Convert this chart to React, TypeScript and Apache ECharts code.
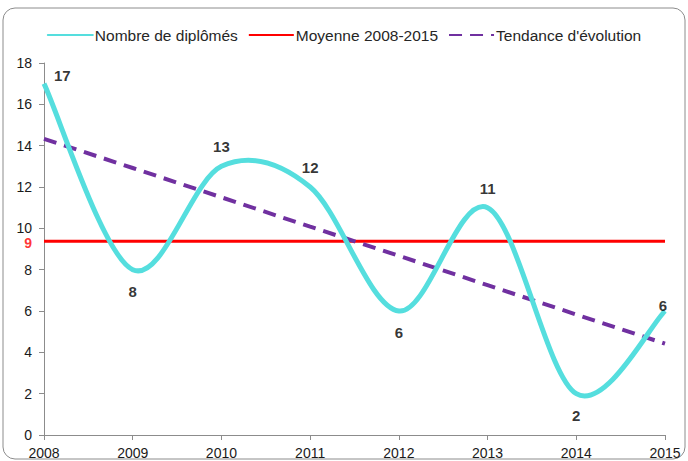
import React, { useEffect, useRef } from "react";
import * as echarts from "echarts";

const years = ["2008", "2009", "2010", "2011", "2012", "2013", "2014", "2015"];
const diplomes = [17, 8, 13, 12, 6, 11, 2, 6];
const moyenne = [9.375, 9.375, 9.375, 9.375, 9.375, 9.375, 9.375, 9.375];
const tendance = [14.33, 12.92, 11.5, 10.08, 8.67, 7.25, 5.83, 4.42];
const labelPos = ["right", "bottom", "top", "top", "bottom", "top", "bottom", "inside"];
const yTicks = [0, 2, 4, 6, 8, 10, 12, 14, 16, 18];

export default function App() {
  const ref = useRef<HTMLDivElement>(null);
  useEffect(() => {
    const chart = echarts.init(ref.current!, null, { renderer: "svg" });
    const font = "'Liberation Sans', Arial, sans-serif";
    const labelData = diplomes.map((v, i) => {
      const p = labelPos[i];
      const lab: any = { show: true, position: p, distance: p === "top" ? 12 : p === "bottom" ? 14 : 10 };
      if (p === "right") lab.offset = [0, -8];
      if (p === "inside") lab.offset = [-2, -6];
      return { value: [i, v], label: lab };
    });
    const curveData = diplomes.map((v, i) => [i, v]);
    chart.setOption({
      animation: false,
      textStyle: { fontFamily: font },
      graphic: [
        {
          type: "rect",
          shape: { x: 3, y: 8, width: 682, height: 451, r: 12 },
          style: { fill: "none", stroke: "#8c8c8c", lineWidth: 1 },
          silent: true,
        },
      ],
      legend: {
        data: ["Nombre de diplômés", "Moyenne 2008-2015", "Tendance d'évolution"],
        top: 22,
        left: "center",
        itemWidth: 45,
        itemHeight: 14,
        itemGap: 10,
        itemStyle: { opacity: 0 },
        textStyle: { fontSize: 15.5, color: "#262626", fontFamily: font, padding: [0, 0, 0, -3] },
      },
      grid: { left: 44, right: 23, top: 63, bottom: 26, containLabel: false },
      xAxis: {
        type: "category",
        data: years,
        boundaryGap: false,
        axisLine: { lineStyle: { color: "#8c8c8c" } },
        axisTick: { show: true, length: 5, lineStyle: { color: "#8c8c8c" } },
        axisLabel: { color: "#1a1a1a", fontSize: 14, margin: 11, fontFamily: font },
      },
      yAxis: {
        type: "value",
        min: yTicks[0],
        max: yTicks[yTicks.length - 1],
        interval: 2,
        splitLine: { show: false },
        axisLine: { show: true, lineStyle: { color: "#8c8c8c" } },
        axisTick: { show: true, length: 5, lineStyle: { color: "#8c8c8c" } },
        axisLabel: { color: "#1a1a1a", fontSize: 14, lineHeight: 12, margin: 12, fontFamily: font },
      },
      series: [
        {
          name: "Nombre de diplômés",
          type: "line",
          data: [],
          symbol: "none",
          lineStyle: { color: "#55dede", width: 5, cap: "round" },
          itemStyle: { color: "#55dede" },
        },
        {
          name: "Moyenne 2008-2015",
          type: "line",
          data: moyenne,
          symbol: "none",
          lineStyle: { color: "#ff0000", width: 3 },
          itemStyle: { color: "#ff0000" },
          z: 2,
        },
        {
          name: "Tendance d'évolution",
          type: "line",
          data: tendance,
          symbol: "none",
          lineStyle: { color: "#7030a0", width: 4, type: [13, 8] },
          itemStyle: { color: "#7030a0" },
          z: 3,
        },
        {
          name: "courbe",
          type: "custom",
          data: curveData,
          z: 4,
          renderItem: (params: any, api: any) => {
            if (params.dataIndex !== 0) return null;
            const pts = diplomes.map((v, i) => api.coord([i, v]));
            const n = pts.length;
            let d = `M${pts[0][0]},${pts[0][1]}`;
            for (let i = 0; i < n - 1; i++) {
              const p0 = pts[Math.max(0, i - 1)];
              const p1 = pts[i];
              const p2 = pts[i + 1];
              const p3 = pts[Math.min(n - 1, i + 2)];
              const c1x = p1[0] + (p2[0] - p0[0]) / 6;
              const c1y = p1[1] + (p2[1] - p0[1]) / 6;
              const c2x = p2[0] - (p3[0] - p1[0]) / 6;
              const c2y = p2[1] - (p3[1] - p1[1]) / 6;
              d += ` C${c1x},${c1y} ${c2x},${c2y} ${p2[0]},${p2[1]}`;
            }
            return {
              type: "path",
              shape: { pathData: d },
              style: { fill: "none", stroke: "#55dede", lineWidth: 5 },
            };
          },
        },
        {
          name: "labels",
          type: "scatter",
          data: labelData,
          symbolSize: 0,
          label: { color: "#000", fontWeight: "bold", fontSize: 15, fontFamily: font },
          z: 5,
        },
        {
          name: "meanLabel",
          type: "scatter",
          data: [{ value: [0, moyenne[0]] }],
          symbolSize: 0,
          label: {
            show: true,
            position: "left",
            distance: 12,
            offset: [0, 2],
            lineHeight: 12,
            formatter: () => String(Math.floor(moyenne[0])),
            color: "#ff0000",
            fontWeight: "bold",
            fontSize: 14,
            fontFamily: font,
          },
          z: 5,
        },
      ],
    });
    return () => chart.dispose();
  }, []);
  return <div ref={ref} style={{ position: "fixed", left: 0, top: 0, width: 688, height: 461, background: "#fff" }} />;
}
